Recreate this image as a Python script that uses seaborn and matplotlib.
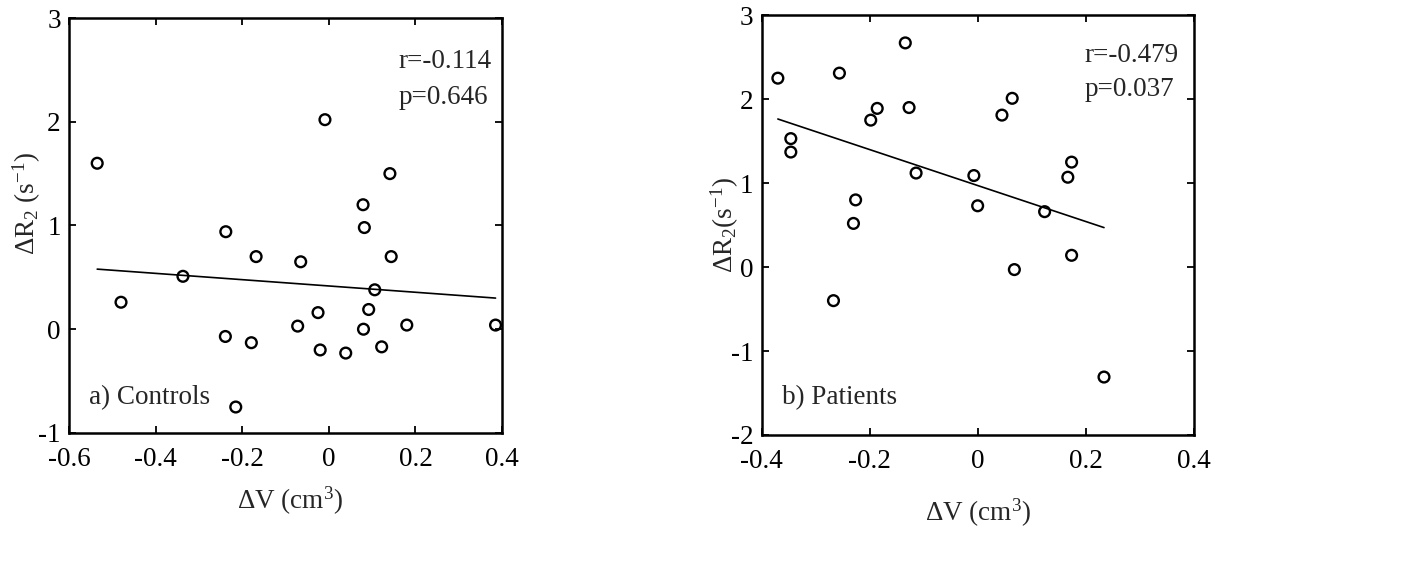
import numpy as np
import pandas as pd
import seaborn as sns
import matplotlib
matplotlib.use("Agg")
import matplotlib.pyplot as plt

# Panel a) Controls
ctrl_dv = [-0.535, -0.480, -0.337, -0.238, -0.239, -0.215, -0.168, -0.179,
           -0.065, -0.072, -0.009, -0.025, -0.020, 0.039, 0.079, 0.082,
           0.080, 0.092, 0.106, 0.122, 0.141, 0.144, 0.180, 0.385]
ctrl_dr2 = [1.60, 0.26, 0.51, 0.94, -0.07, -0.75, 0.70, -0.13,
            0.65, 0.03, 2.02, 0.16, -0.20, -0.23, 1.20, 0.98,
            0.00, 0.19, 0.38, -0.17, 1.50, 0.70, 0.04, 0.04]

# Panel b) Patients
pat_dv = [-0.370, -0.346, -0.346, -0.256, -0.267, -0.230, -0.226, -0.198,
          -0.186, -0.134, -0.127, -0.114, -0.007, 0.000, 0.045, 0.064,
          0.068, 0.124, 0.167, 0.174, 0.174, 0.234]
pat_dr2 = [2.25, 1.53, 1.37, 2.31, -0.40, 0.52, 0.80, 1.75,
           1.89, 2.67, 1.90, 1.12, 1.09, 0.73, 1.81, 2.01,
           -0.03, 0.66, 1.07, 1.25, 0.14, -1.31]

stats_a = ["r=-0.114", "p=0.646"]
stats_b = ["r=-0.479", "p=0.037"]

sns.set_style("ticks")
plt.rcParams["font.family"] = ["Liberation Serif", "DejaVu Serif"]
plt.rcParams["mathtext.fontset"] = "custom"
plt.rcParams["mathtext.rm"] = "Liberation Serif"
plt.rcParams["mathtext.it"] = "Liberation Serif:italic"
plt.rcParams["axes.unicode_minus"] = False

fig = plt.figure(figsize=(14.21, 5.63), dpi=100)
ax1 = fig.add_axes([0.0486, 0.231, 0.3047, 0.737])
ax2 = fig.add_axes([0.536, 0.2274, 0.304, 0.7456])

dfa = pd.DataFrame({"dv": ctrl_dv, "dr2": ctrl_dr2})
dfb = pd.DataFrame({"dv": pat_dv, "dr2": pat_dr2})

FS = 19.5
for ax, df in [(ax1, dfa), (ax2, dfb)]:
    sns.regplot(data=df, x="dv", y="dr2", ax=ax, scatter=False, ci=None,
                truncate=True, line_kws=dict(color="black", lw=1.2))
    sns.scatterplot(data=df, x="dv", y="dr2", ax=ax, marker="o", s=60,
                    facecolor="none", edgecolor="black", linewidth=1.7,
                    zorder=3)
    ax.tick_params(direction="in", length=5, width=1.3, top=True, right=True,
                   labelsize=FS, colors="black")
    ax.tick_params(axis="x", pad=10)
    ax.tick_params(axis="y", pad=6)
    for sp in ax.spines.values():
        sp.set_linewidth(1.8)
        sp.set_color("black")
        sp.set_visible(True)

ax1.set_xlim(-0.6, 0.4)
ax1.set_ylim(-1, 3)
ax1.set_xticks([-0.6, -0.4, -0.2, 0, 0.2, 0.4])
ax1.set_xticklabels(["-0.6", "-0.4", "-0.2", "0", "0.2", "0.4"])
ax1.set_yticks([-1, 0, 1, 2, 3])
ax1.set_yticklabels(["-1", "0", "1", "2", "3"])
ax1.set_xlabel("ΔV (cm$^3$)", fontsize=FS, va="center")
ax1.xaxis.set_label_coords(0.51, -0.163)
ax1.set_ylabel("ΔR$_2$ (s$^{-1}$)", fontsize=FS, va="center")
ax1.yaxis.set_label_coords(-0.097, 0.554)
ax1.text(0.76, 0.895, stats_a[0], transform=ax1.transAxes, fontsize=FS,
         ha="left", va="center")
ax1.text(0.76, 0.808, stats_a[1], transform=ax1.transAxes, fontsize=FS,
         ha="left", va="center")
ax1.text(0.045, 0.085, "a) Controls", transform=ax1.transAxes, fontsize=FS,
         ha="left", va="center")

ax2.set_xlim(-0.4, 0.4)
ax2.set_ylim(-2, 3)
ax2.set_xticks([-0.4, -0.2, 0, 0.2, 0.4])
ax2.set_xticklabels(["-0.4", "-0.2", "0", "0.2", "0.4"])
ax2.set_yticks([-2, -1, 0, 1, 2, 3])
ax2.set_yticklabels(["-2", "-1", "0", "1", "2", "3"])
ax2.set_xlabel("ΔV (cm$^3$)", fontsize=FS, va="center")
ax2.xaxis.set_label_coords(0.5, -0.185)
ax2.set_ylabel("ΔR$_2$(s$^{-1}$)", fontsize=FS, va="center")
ax2.yaxis.set_label_coords(-0.086, 0.5)
ax2.text(0.748, 0.904, stats_b[0], transform=ax2.transAxes, fontsize=FS,
         ha="left", va="center")
ax2.text(0.748, 0.822, stats_b[1], transform=ax2.transAxes, fontsize=FS,
         ha="left", va="center")
ax2.text(0.046, 0.088, "b) Patients", transform=ax2.transAxes, fontsize=FS,
         ha="left", va="center")

fig.savefig("out.png", dpi=100)
